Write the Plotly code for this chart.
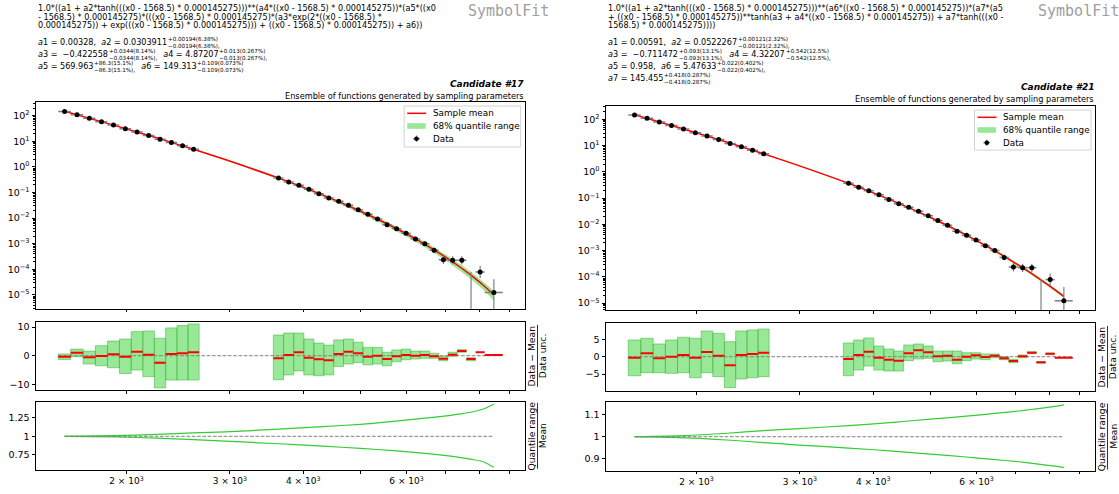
import re
import plotly.graph_objects as go

W, H = 1119, 494
FONT = "DejaVu Sans"

# ---------------- binned dijet spectrum ----------------
bin_low = [1530, 1607, 1687, 1770, 1856, 1945, 2037, 2132, 2231, 2332, 2438, 2546,
           3558, 3704, 3854, 4010, 4171, 4337, 4509, 4686, 4869, 5058, 5253, 5455,
           5663, 5877, 6099, 6328, 6564, 6808, 7060, 7320, 7589, 7866, 8152]
bin_high = [1607, 1687, 1770, 1856, 1945, 2037, 2132, 2231, 2332, 2438, 2546, 2659,
            3704, 3854, 4010, 4171, 4337, 4509, 4686, 4869, 5058, 5253, 5455, 5663,
            5877, 6099, 6328, 6564, 6808, 7060, 7320, 7589, 7866, 8152, 8752]
data_y = [148, 110, 79.4, 58.9, 43.2, 31.3, 23.2, 17.0, 12.2, 9.1, 6.7, 4.9,
          0.369, 0.258, 0.191, 0.1337, 0.0899, 0.0611, 0.0455, 0.0317, 0.02138,
          0.01413, 0.00925, 0.00555, 0.00387, 0.00256, 0.00153, 0.001005,
          5.55e-4, 2.38e-4, 2.26e-4, 2.26e-4, 0.0, 7.89e-5, 1.23e-5]
data_rel_up = [0.002, 0.002, 0.003, 0.003, 0.004, 0.004, 0.005, 0.006, 0.007, 0.008, 0.010, 0.011,
               0.012, 0.014, 0.017, 0.020, 0.024, 0.029, 0.034, 0.040, 0.048, 0.058, 0.070, 0.090,
               0.110, 0.135, 0.170, 0.210, 0.260, 0.420, 0.420, 0.420, 0.0, 0.700, 2.330]
data_rel_dn = [0.002, 0.002, 0.003, 0.003, 0.004, 0.004, 0.005, 0.006, 0.007, 0.008, 0.010, 0.011,
               0.012, 0.014, 0.017, 0.020, 0.024, 0.029, 0.034, 0.040, 0.047, 0.056, 0.068, 0.085,
               0.100, 0.120, 0.150, 0.180, 0.220, 0.320, 0.320, 0.320, 0.0, 0.420, 0.990]
empty_bin_upper = 8.1e-5

# ---------------- sample mean and 68% quantiles ----------------
curve_x = [1568.5, 1913, 2257, 2601, 2945, 3634, 4322, 5010, 5699, 6387, 7075, 7420, 7764, 8108, 8452]

mean_17 = [149.3, 41.28, 13.42, 4.891, 1.941, 0.3646, 0.07930, 0.01859, 0.004487,
           0.001078, 2.502e-4, 1.176e-4, 5.395e-5, 2.389e-5, 1.003e-5]
q_hi_17 = [1.0, 1.008, 1.025, 1.045, 1.06, 1.095, 1.13, 1.16, 1.20, 1.24, 1.277, 1.30, 1.325, 1.365, 1.43]
q_lo_17 = [1.0, 0.992, 0.975, 0.955, 0.935, 0.90, 0.868, 0.838, 0.808, 0.775, 0.737, 0.715, 0.69, 0.66, 0.585]

mean_21 = [149.3, 41.27, 13.42, 4.893, 1.943, 0.3653, 0.07903, 0.01841, 0.004471,
           0.001114, 2.812e-4, 1.416e-4, 7.134e-5, 3.594e-5, 1.810e-5]
q_hi_21 = [1.0, 1.005, 1.016, 1.028, 1.036, 1.051, 1.066, 1.081, 1.093, 1.106, 1.118, 1.125, 1.131, 1.138, 1.146]
q_lo_21 = [1.0, 0.995, 0.985, 0.973, 0.963, 0.948, 0.934, 0.920, 0.908, 0.896, 0.885, 0.879, 0.872, 0.866, 0.858]

# ---------------- (data - mean) / data unc. per bin ----------------
pull_17 = [-0.35, 1.05, -0.56, -0.10, 0.49, -0.35, 1.40, 0.35, -2.44, 0.59, 0.84, 1.19,
           -0.91, 0.24, 1.19, -0.70, -1.26, -1.61, 0.59, 1.40, 0.84, -0.35, 0.00, -1.15,
           -0.21, 0.24, 0.00, 0.24, -0.21, -1.05, 0.35, 1.64, -1.15, 1.19, 0.24]
pull_hi_17 = [0.6, 2.3, 1.6, 3.5, 5.1, 5.8, 8.4, 8.6, 6.1, 9.7, 10.5, 11.1,
              7.2, 7.9, 7.9, 5.8, 4.4, 3.7, 5.5, 5.8, 4.7, 2.9, 2.9, 1.2,
              2.0, 2.3, 1.6, 1.6, 0.84, -0.2, 1.2, 2.1, -0.7, None, None]
pull_lo_17 = [-1.3, -0.35, -2.9, -3.5, -4.2, -6.2, -5.0, -7.3, -11.2, -8.5, -8.5, -8.5,
              -8.4, -6.7, -5.3, -6.7, -7.0, -6.7, -3.8, -2.9, -2.4, -3.2, -2.9, -3.5,
              -2.1, -1.4, -1.15, -0.9, -0.9, -1.75, -0.2, 1.2, -1.75, None, None]

pull_21 = [-0.29, 0.98, -0.46, 0.00, 0.49, -0.29, 1.35, 0.29, -2.48, 0.49, 0.78, 1.15,
           -0.66, 0.49, 1.44, -0.29, -0.86, -1.15, 0.98, 1.84, 1.27, 0.12, 0.29, -0.86,
           0.00, 0.40, -0.10, 0.29, -0.46, -1.24, 0.12, 1.15, -1.61, 0.86, -0.29]
pull_hi_21 = [4.81, 5.3, 3.66, 4.81, 5.6, 5.3, 7.4, 6.74, 4.32, 7.4, 7.7, 7.98,
              3.95, 4.81, 5.39, 3.08, 2.22, 1.64, 3.37, 3.66, 3.08, 1.64, 1.64, 1.64,
              1.15, 1.15, 0.78, 0.78, 0.0, -0.75, 0.49, 1.44, -1.44, 1.07, None]
pull_lo_21 = [-5.48, -4.6, -4.6, -4.8, -4.6, -6.05, -4.6, -5.76, -8.93, -6.43, -6.05, -5.76,
              -5.48, -3.83, -2.68, -3.83, -4.12, -4.12, -1.15, -0.66, -0.46, -1.44, -1.24, -2.02,
              -1.15, -0.66, -0.86, -0.29, -0.86, -1.73, -0.29, 0.86, -1.9, 0.58, None]

# ---------------- header texts ----------------
formula_17 = [
    "1.0*((a1 + a2*tanh(((x0 - 1568.5) * 0.000145275)))**(a4*((x0 - 1568.5) * 0.000145275))*(a5*((x0",
    "- 1568.5) * 0.000145275)*(((x0 - 1568.5) * 0.000145275)*(a3*exp(2*((x0 - 1568.5) *",
    "0.000145275)) + exp(((x0 - 1568.5) * 0.000145275))) + ((x0 - 1568.5) * 0.000145275)) + a6))",
]
formula_21 = [
    "1.0*((a1 + a2*tanh(((x0 - 1568.5) * 0.000145275)))**(a6*((x0 - 1568.5) * 0.000145275))*(a7*(a5",
    "+ ((x0 - 1568.5) * 0.000145275))**tanh(a3 + a4*((x0 - 1568.5) * 0.000145275)) + a7*tanh(((x0 -",
    "1568.5) * 0.000145275))))",
]
params_17 = [
    ["a1 = 0.00328,  a2 = 0.0303911", ("+0.00194(6.38%)", "−0.00194(6.38%),")],
    ["a3 =  −0.422558", ("+0.0344(8.14%)", "−0.0344(8.14%),"),
     "  a4 = 4.87207", ("+0.013(0.267%)", "−0.013(0.267%),")],
    ["a5 = 569.963", ("+86.3(15.1%)", "−86.3(15.1%),"),
     "  a6 = 149.313", ("+0.109(0.073%)", "−0.109(0.073%)")],
]
params_21 = [
    ["a1 = 0.00591,  a2 = 0.0522267", ("+0.00121(2.32%)", "−0.00121(2.32%),")],
    ["a3 =  −0.711472", ("+0.093(13.1%)", "−0.093(13.1%),"),
     "  a4 = 4.32207", ("+0.542(12.5%)", "−0.542(12.5%),")],
    ["a5 = 0.958,  a6 = 5.47633", ("+0.022(0.402%)", "−0.022(0.402%),")],
    ["a7 = 145.455", ("+0.418(0.287%)", "−0.418(0.287%)")],
]

x_label_vals = [2000, 3000, 4000, 6000]
x_label_text = ["2 × 10<sup>3</sup>", "3 × 10<sup>3</sup>", "4 × 10<sup>3</sup>", "6 × 10<sup>3</sup>"]
x_other_ticks = [5000, 7000, 8000, 9000]
y_tick_vals = [1e-5, 1e-4, 1e-3, 1e-2, 1e-1, 1, 10, 100]
y_tick_text = ["10<sup>−5</sup>", "10<sup>−4</sup>", "10<sup>−3</sup>", "10<sup>−2</sup>",
               "10<sup>−1</sup>", "10<sup>0</sup>", "10<sup>1</sup>", "10<sup>2</sup>"]

# ---------------- styling ----------------
GREEN_FILL = "rgb(152,232,152)"
GREEN_EDGE = "rgba(70,190,70,0.75)"
GREEN_LINE = "rgb(50,205,50)"
GRAY = "rgb(128,128,128)"
X_RANGE = [3.1468, 3.9800]

panels = [
    dict(mean=mean_17, q_hi=q_hi_17, q_lo=q_lo_17, pull=pull_17, p_hi=pull_hi_17, p_lo=pull_lo_17,
         formula=formula_17, params=params_17, title="Candidate #17",
         xl=36, xr=525, main=(101.7, 308.7), res=(321.7, 390.0), rat=(401.7, 470.0),
         yr_main=[-5.54, 2.55], yr_res=[-11.97, 11.87], yr_rat=[0.549, 1.463],
         res_ticks=([-10, 0, 10], ["−10", "0", "10"]),
         rat_ticks=([0.75, 1, 1.25], ["0.75", "1", "1.25"]),
         f_y=[8.5, 16.5, 24.5], p_y=[42, 54.3, 66.3], cand_y=84.5, ens_y=95.5,
         legend=(520.7, 106, 41)),
    dict(mean=mean_21, q_hi=q_hi_21, q_lo=q_lo_21, pull=pull_21, p_hi=pull_hi_21, p_lo=pull_lo_21,
         formula=formula_21, params=params_21, title="Candidate #21",
         xl=606, xr=1095, main=(105.5, 310.0), res=(322.7, 391.0), rat=(402.3, 470.7),
         yr_main=[-5.26, 2.53], yr_res=[-9.88, 9.8], yr_rat=[0.844, 1.158],
         res_ticks=([-5, 0, 5], ["−5", "0", "5"]),
         rat_ticks=([0.9, 1, 1.1], ["0.9", "1", "1.1"]),
         f_y=[8.5, 16.5, 24.5], p_y=[42, 54.3, 66.3, 78.3], cand_y=87.5, ens_y=98.5,
         legend=(1091, 110, 40)),
]


def PX(p):
    return p / W


def PY(p):
    return 1 - p / H


def dom(top, bottom):
    return [1 - bottom / H, 1 - top / H]


# approximate DejaVu Sans advance widths (em) used to chain header segments
ADV = {str(d): 0.636 for d in range(10)}
ADV.update({'.': 0.318, ',': 0.318, ' ': 0.318, '=': 0.838, '+': 0.838, '−': 0.838,
            '(': 0.390, ')': 0.390, '%': 0.950, 'a': 0.613})


def adv(s, size):
    return size * sum(ADV.get(c, 0.6) for c in s)


def show(s):
    s = s.replace(" ", "\u00a0")
    return re.sub(r"a(\d)", r"<i>a</i>\1", s)


fig = go.Figure()
annotations = []
shapes = []
layout_axes = {}

centers = [(lo + hi) / 2 for lo, hi in zip(bin_low, bin_high)]
half_w = [(hi - lo) / 2 for lo, hi in zip(bin_low, bin_high)]

minor_y = [m * 10.0 ** k for k in range(-6, 3) for m in range(2, 10)]

axis_common = dict(showline=True, mirror=True, linecolor="black", linewidth=1,
                   showgrid=False, zeroline=False, ticks="outside", tickcolor="black",
                   tickwidth=0.8, tickfont=dict(family=FONT, size=9.5, color="black"))


def text_ann(x, y, text, size, xanchor="left", yanchor="middle", **kw):
    d = dict(x=PX(x), y=PY(y), xref="paper", yref="paper", xanchor=xanchor, yanchor=yanchor,
             text=text, showarrow=False, borderpad=0,
             font=dict(family=kw.pop("family", FONT), size=size, color=kw.pop("color", "black")))
    d.update(kw)
    annotations.append(d)


for i, P in enumerate(panels):
    ids = [3 * i + 1, 3 * i + 2, 3 * i + 3]
    xn = ["x" if k == 1 else f"x{k}" for k in ids]
    yn = ["y" if k == 1 else f"y{k}" for k in ids]
    xk = ["xaxis" if k == 1 else f"xaxis{k}" for k in ids]
    yk = ["yaxis" if k == 1 else f"yaxis{k}" for k in ids]
    xdom = [P["xl"] / W, P["xr"] / W]

    # ---- main panel: quantile band, sample mean, data ----
    band_lo = [m * q for m, q in zip(P["mean"], P["q_lo"])]
    band_hi = [m * q for m, q in zip(P["mean"], P["q_hi"])]
    fig.add_trace(go.Scatter(x=curve_x, y=band_lo, mode="lines",
                             line=dict(width=0, shape="spline", smoothing=0.6),
                             xaxis=xn[0], yaxis=yn[0], hoverinfo="skip"))
    fig.add_trace(go.Scatter(x=curve_x, y=band_hi, mode="lines", fill="tonexty",
                             fillcolor=GREEN_FILL, line=dict(width=0, shape="spline", smoothing=0.6),
                             xaxis=xn[0], yaxis=yn[0], hoverinfo="skip"))
    fig.add_trace(go.Scatter(x=curve_x, y=P["mean"], mode="lines",
                             line=dict(color="red", width=1.5, shape="spline", smoothing=0.6),
                             xaxis=xn[0], yaxis=yn[0]))

    keep = [j for j, v in enumerate(data_y) if v > 0]
    fig.add_trace(go.Scatter(
        x=[centers[j] for j in keep], y=[data_y[j] for j in keep], mode="markers",
        marker=dict(color="black", size=5),
        error_x=dict(type="data", array=[half_w[j] for j in keep], color=GRAY,
                     thickness=1.5, width=0),
        error_y=dict(type="data", array=[data_y[j] * data_rel_up[j] for j in keep],
                     arrayminus=[data_y[j] * data_rel_dn[j] for j in keep],
                     color=GRAY, thickness=1.2, width=0),
        xaxis=xn[0], yaxis=yn[0]))
    for j, v in enumerate(data_y):
        if v == 0:
            fig.add_trace(go.Scatter(x=[centers[j], centers[j]], y=[1e-9, empty_bin_upper],
                                     mode="lines", line=dict(color=GRAY, width=1.2),
                                     xaxis=xn[0], yaxis=yn[0], hoverinfo="skip"))

    # ---- pull panel ----
    bx, by = [], []
    for lo, hi, b0, b1 in zip(bin_low, bin_high, P["p_lo"], P["p_hi"]):
        if b0 is None:
            continue
        bx += [lo, hi, hi, lo, lo, None]
        by += [b0, b0, b1, b1, b0, None]
    fig.add_trace(go.Scatter(x=bx, y=by, mode="lines", fill="toself", fillcolor=GREEN_FILL,
                             line=dict(color=GREEN_EDGE, width=0.8),
                             xaxis=xn[1], yaxis=yn[1], hoverinfo="skip"))
    fig.add_trace(go.Scatter(x=[bin_low[0], bin_high[-1]], y=[0, 0], mode="lines",
                             line=dict(color=GRAY, width=1, dash="3.7px,1.6px"),
                             xaxis=xn[1], yaxis=yn[1], hoverinfo="skip"))
    rx, ry = [], []
    for lo, hi, p in zip(bin_low, bin_high, P["pull"]):
        rx += [lo, hi, None]
        ry += [p, p, None]
    fig.add_trace(go.Scatter(x=rx, y=ry, mode="lines", line=dict(color="red", width=2),
                             xaxis=xn[1], yaxis=yn[1]))

    # ---- quantile / mean panel ----
    fig.add_trace(go.Scatter(x=curve_x, y=P["q_hi"], mode="lines",
                             line=dict(color=GREEN_LINE, width=1.2, shape="spline", smoothing=0.6),
                             xaxis=xn[2], yaxis=yn[2]))
    fig.add_trace(go.Scatter(x=curve_x, y=P["q_lo"], mode="lines",
                             line=dict(color=GREEN_LINE, width=1.2, shape="spline", smoothing=0.6),
                             xaxis=xn[2], yaxis=yn[2]))
    fig.add_trace(go.Scatter(x=[curve_x[0], curve_x[-1]], y=[1, 1], mode="lines",
                             line=dict(color=GRAY, width=1, dash="3.7px,1.6px"),
                             xaxis=xn[2], yaxis=yn[2], hoverinfo="skip"))

    # ---- axes ----
    for k in range(3):
        xa = dict(axis_common, type="log", range=X_RANGE, domain=xdom, anchor=yn[k],
                  ticklen=2.5,
                  minor=dict(tickvals=x_other_ticks, ticks="outside", ticklen=2.5,
                             tickwidth=0.8, tickcolor="black"))
        if k == 2:
            xa.update(tickvals=x_label_vals, ticktext=x_label_text,
                      tickfont=dict(family=FONT, size=9, color="black"))
        else:
            xa.update(tickvals=x_label_vals, showticklabels=False)
        layout_axes[xk[k]] = xa
    layout_axes[yk[0]] = dict(axis_common, type="log", range=P["yr_main"],
                              domain=dom(*P["main"]), anchor=xn[0],
                              tickvals=y_tick_vals, ticktext=y_tick_text, ticklen=3.5,
                              minor=dict(tickvals=minor_y, ticks="outside", ticklen=2,
                                         tickwidth=0.6, tickcolor="black"))
    layout_axes[yk[1]] = dict(axis_common, range=P["yr_res"], domain=dom(*P["res"]),
                              anchor=xn[1], tickvals=P["res_ticks"][0],
                              ticktext=P["res_ticks"][1], ticklen=3.5)
    layout_axes[yk[2]] = dict(axis_common, range=P["yr_rat"], domain=dom(*P["rat"]),
                              anchor=xn[2], tickvals=P["rat_ticks"][0],
                              ticktext=P["rat_ticks"][1], ticklen=3.5)

    # ---- side labels written as fractions ----
    for (top, bot), num, den, half in [(P["res"], "Data − Mean", "Data unc.", 31),
                                       (P["rat"], "Quantile range", "Mean", 33)]:
        yc = (top + bot) / 2
        xb = P["xr"] + 12.5
        text_ann(xb - 5.8, yc, num, 9.2, xanchor="center", textangle=-90)
        text_ann(xb + 5.8, yc, den, 9.2, xanchor="center", textangle=-90)
        shapes.append(dict(type="line", xref="paper", yref="paper",
                           x0=PX(xb), x1=PX(xb), y0=PY(yc - half), y1=PY(yc + half),
                           line=dict(color="black", width=0.8)))

    # ---- header: expression, parameters, titles ----
    for line, yc in zip(P["formula"], P["f_y"]):
        text_ann(P["xl"] + 1, yc, line.replace(" ", "\u00a0"), 8.1)
    F, f = 8.1, 5.6
    for row, yc in zip(P["params"], P["p_y"]):
        x = P["xl"] + 1
        for seg in row:
            if isinstance(seg, str):
                text_ann(x, yc, show(seg), F)
                x += adv(seg, F) + 0.8
            else:
                sup, sub = seg
                text_ann(x, yc, sup + "<br>" + sub, f, align="left")
                x += max(adv(sup, f), adv(sub, f)) + 0.5
    text_ann(P["xr"], P["cand_y"], "<b><i>" + P["title"] + "</i></b>", 9, xanchor="right")
    text_ann(P["xr"], P["ens_y"], "Ensemble of functions generated by sampling parameters", 8.2,
             xanchor="right")
    text_ann(P["xr"] - 58, 10.5, "SymbolFit", 15, family="DejaVu Sans Mono",
             color="rgb(160,160,160)")

    # ---- legend box ----
    lr, lt, lh = P["legend"]
    ll = lr - 116.5
    shapes.append(dict(type="rect", xref="paper", yref="paper", x0=PX(ll), x1=PX(lr),
                       y0=PY(lt + lh), y1=PY(lt), fillcolor="rgba(255,255,255,0.85)",
                       line=dict(color="rgb(210,210,210)", width=1)))
    rows = [lt + 7.3, lt + 20, lt + 32.7]
    shapes.append(dict(type="line", xref="paper", yref="paper", x0=PX(ll + 3), x1=PX(ll + 22),
                       y0=PY(rows[0]), y1=PY(rows[0]), line=dict(color="red", width=1.5)))
    shapes.append(dict(type="rect", xref="paper", yref="paper", x0=PX(ll + 3), x1=PX(ll + 21.5),
                       y0=PY(rows[1] + 2.8), y1=PY(rows[1] - 2.8), fillcolor=GREEN_FILL,
                       line=dict(width=0)))
    cx = ll + 12.3
    shapes.append(dict(type="line", xref="paper", yref="paper", x0=PX(cx - 3.4), x1=PX(cx + 3.4),
                       y0=PY(rows[2]), y1=PY(rows[2]), line=dict(color=GRAY, width=1.3)))
    shapes.append(dict(type="line", xref="paper", yref="paper", x0=PX(cx), x1=PX(cx),
                       y0=PY(rows[2] - 3.2), y1=PY(rows[2] + 3.2), line=dict(color=GRAY, width=1.2)))
    shapes.append(dict(type="circle", xref="paper", yref="paper", x0=PX(cx - 2.3), x1=PX(cx + 2.3),
                       y0=PY(rows[2] + 2.3), y1=PY(rows[2] - 2.3), fillcolor="black",
                       line=dict(width=0)))
    for yy, label in zip(rows, ["Sample mean", "68% quantile range", "Data"]):
        text_ann(ll + 27.5, yy, label, 8.8)

fig.update_layout(
    width=W, height=H, margin=dict(l=0, r=0, t=0, b=0),
    paper_bgcolor="white", plot_bgcolor="white", showlegend=False,
    annotations=annotations, shapes=shapes, **layout_axes,
)

fig.write_html("out.html")
